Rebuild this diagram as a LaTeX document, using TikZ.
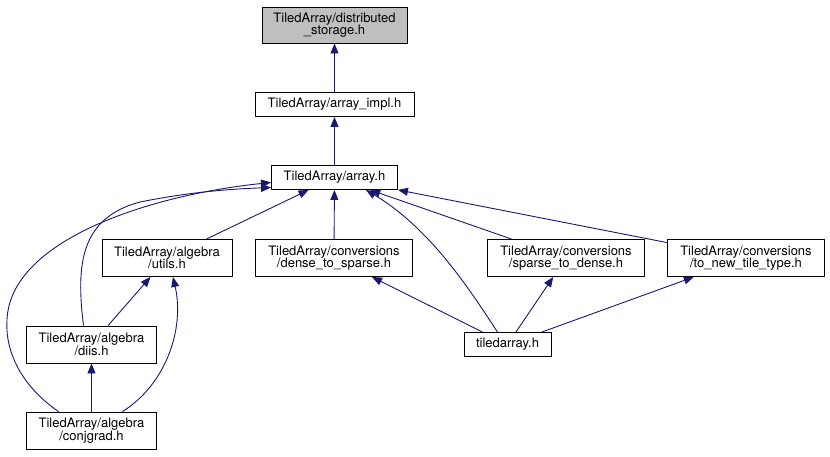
\documentclass[tikz,border=0pt]{standalone}
\usepackage{fontspec}
\setmainfont{TeX Gyre Heros}
\usetikzlibrary{arrows.meta,calc}
\definecolor{edgeblue}{HTML}{191970}
\definecolor{rootgray}{HTML}{BFBFBF}

\begin{document}
\begin{tikzpicture}[x=1pt,y=-1pt,font=\fontsize{13}{12.5}\selectfont,
 header/.style={draw=black,line width=0.9pt,fill=white,align=center,inner sep=0pt},
 onebox/.style={header,minimum height=24pt},
 twobox/.style={header,minimum height=37pt},
 dep/.style={-{Triangle[length=10pt,width=8pt]},draw=edgeblue,line width=0.9pt}]
\useasboundingbox (0,0) rectangle (830,456);
\node[twobox,fill=rootgray,minimum width=145pt,minimum height=36pt] (dist) at (334.5,25) {TiledArray/distributed\\\_storage.h};
\node[onebox,minimum width=159pt] (impl) at (334.5,104.5) {TiledArray/array\_impl.h};
\node[onebox,minimum width=126pt] (array) at (334.5,177.5) {TiledArray/array.h};
\node[twobox,minimum width=130pt] (utils) at (167,258) {TiledArray/algebra\\/utils.h};
\node[twobox,minimum width=157pt] (dense) at (334,258) {TiledArray/conversions\\/dense\_to\_sparse.h};
\node[twobox,minimum width=157pt] (sparse) at (566,258) {TiledArray/conversions\\/sparse\_to\_dense.h};
\node[twobox,minimum width=157pt] (newtile) at (746,258) {TiledArray/conversions\\/to\_new\_tile\_type.h};
\node[twobox,minimum width=130pt] (diis) at (91.5,344.5) {TiledArray/algebra\\/diis.h};
\node[twobox,minimum width=130pt] (conjgrad) at (91.5,430.5) {TiledArray/algebra\\/conjgrad.h};
\node[onebox,minimum width=87pt] (tiled) at (507.5,344.5) {tiledarray.h};
\draw[dep] (impl)--(dist);
\draw[dep] (array)--(impl);
\draw[dep] (utils)--(array);
\draw[dep] (dense)--(array);
\draw[dep] (sparse)--(array);
\draw[dep] (newtile)--(array);
\draw[dep] ([xshift=-10pt]tiled.north) .. controls (470,290) and (430,228) .. ([xshift=-32pt]array.south east);
\draw[dep] (tiled)--(dense);
\draw[dep] (tiled)--(sparse);
\draw[dep] (tiled)--(newtile);
\draw[dep] (diis)--(utils);
\draw[dep] (conjgrad)--(diis);
\draw[dep] ([xshift=31pt]conjgrad.north) .. controls (165,385) and (185,330) .. ([xshift=6pt]utils.south);
\draw[dep] ([xshift=-8pt]diis.north) .. controls (76,265) and (80,218) .. (140,202) .. controls (190,192) and (230,189) .. ([yshift=-10pt]array.west);
\draw[dep] ([xshift=-33pt]conjgrad.north) .. controls (20,385) and (5,350) .. (7,320) .. controls (10,240) and (150,195) .. ([yshift=-5pt]array.west);
\end{tikzpicture}
\end{document}
